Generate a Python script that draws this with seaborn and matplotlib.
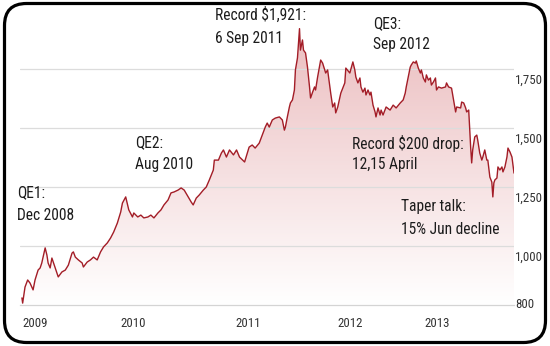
import numpy as np
import pandas as pd
import matplotlib
matplotlib.use("Agg")
import matplotlib.pyplot as plt
import seaborn as sns
from matplotlib.colors import LinearSegmentedColormap
from matplotlib.patches import FancyBboxPatch
from matplotlib.transforms import ScaledTranslation
from matplotlib import font_manager

# Gold price, US$ per ounce (decimal year, price)
years = [2008.911, 2008.918, 2008.941, 2008.967, 2008.990, 2009.007, 2009.020, 2009.039, 2009.069, 2009.089,
         2009.105, 2009.138, 2009.155, 2009.167, 2009.187, 2009.204, 2009.217, 2009.253, 2009.266, 2009.302,
         2009.335, 2009.365, 2009.401, 2009.414, 2009.433, 2009.463, 2009.500, 2009.512, 2009.549, 2009.581,
         2009.611, 2009.647, 2009.680, 2009.709, 2009.746, 2009.778, 2009.808, 2009.844, 2009.877, 2009.894,
         2009.926, 2009.956, 2009.992, 2010.005, 2010.044, 2010.074, 2010.103, 2010.143, 2010.172, 2010.202,
         2010.241, 2010.271, 2010.300, 2010.340, 2010.369, 2010.399, 2010.438, 2010.468, 2010.498, 2010.537,
         2010.567, 2010.586, 2010.616, 2010.645, 2010.685, 2010.714, 2010.744, 2010.783, 2010.793, 2010.833,
         2010.862, 2010.882, 2010.911, 2010.941, 2010.980, 2011.010, 2011.039, 2011.089, 2011.133, 2011.163,
         2011.192, 2011.232, 2011.261, 2011.291, 2011.310, 2011.330, 2011.360, 2011.389, 2011.429, 2011.458,
         2011.478, 2011.488, 2011.507, 2011.527, 2011.537, 2011.557, 2011.576, 2011.586, 2011.606, 2011.626,
         2011.635, 2011.655, 2011.665, 2011.685, 2011.704, 2011.724, 2011.734, 2011.754, 2011.773, 2011.783,
         2011.803, 2011.833, 2011.852, 2011.882, 2011.901, 2011.931, 2011.951, 2011.970, 2011.980, 2012.000,
         2012.030, 2012.069, 2012.079, 2012.118, 2012.148, 2012.167, 2012.177, 2012.197, 2012.217, 2012.227,
         2012.246, 2012.266, 2012.276, 2012.296, 2012.315, 2012.325, 2012.345, 2012.365, 2012.374, 2012.394,
         2012.414, 2012.424, 2012.443, 2012.473, 2012.512, 2012.542, 2012.571, 2012.611, 2012.640, 2012.660,
         2012.670, 2012.690, 2012.709, 2012.719, 2012.739, 2012.759, 2012.768, 2012.788, 2012.808, 2012.818,
         2012.837, 2012.857, 2012.867, 2012.887, 2012.906, 2012.916, 2012.936, 2012.956, 2012.966, 2012.985,
         2013.015, 2013.054, 2013.064, 2013.084, 2013.113, 2013.133, 2013.153, 2013.163, 2013.202, 2013.212,
         2013.232, 2013.251, 2013.261, 2013.281, 2013.300, 2013.310, 2013.320, 2013.340, 2013.360, 2013.369,
         2013.389, 2013.409, 2013.419, 2013.438, 2013.458, 2013.468, 2013.488, 2013.507, 2013.517, 2013.527,
         2013.537, 2013.557, 2013.567, 2013.586, 2013.606, 2013.616, 2013.635, 2013.655, 2013.665, 2013.685,
         2013.704, 2013.714, 2013.724]
prices = [780, 758, 826, 856, 843, 826, 814, 856, 898, 907,
          928, 992, 962, 928, 907, 949, 932, 886, 869, 890,
          898, 919, 970, 975, 953, 941, 928, 911, 932, 941,
          953, 941, 975, 996, 1013, 1034, 1059, 1097, 1144, 1182,
          1208, 1153, 1123, 1140, 1123, 1131, 1119, 1123, 1131, 1119,
          1140, 1153, 1174, 1195, 1225, 1229, 1237, 1246, 1237, 1208,
          1186, 1174, 1203, 1216, 1237, 1250, 1280, 1322, 1364, 1364,
          1394, 1407, 1377, 1407, 1386, 1407, 1377, 1356, 1419, 1428,
          1415, 1436, 1470, 1504, 1521, 1504, 1534, 1542, 1547, 1534,
          1491, 1504, 1547, 1589, 1606, 1619, 1661, 1746, 1797, 1921,
          1830, 1873, 1830, 1818, 1758, 1674, 1627, 1652, 1674, 1661,
          1716, 1788, 1775, 1733, 1746, 1648, 1589, 1606, 1564, 1589,
          1648, 1691, 1754, 1733, 1780, 1746, 1716, 1691, 1712, 1674,
          1652, 1669, 1640, 1661, 1640, 1652, 1597, 1568, 1547, 1585,
          1555, 1576, 1555, 1589, 1576, 1597, 1585, 1606, 1619, 1648,
          1674, 1716, 1758, 1767, 1780, 1775, 1784, 1754, 1733, 1746,
          1712, 1695, 1725, 1703, 1712, 1682, 1695, 1712, 1661, 1674,
          1669, 1674, 1691, 1674, 1669, 1619, 1568, 1589, 1585, 1610,
          1606, 1585, 1568, 1576, 1419, 1352, 1407, 1462, 1470, 1449,
          1394, 1364, 1377, 1407, 1364, 1364, 1292, 1271, 1208, 1267,
          1280, 1288, 1335, 1322, 1335, 1314, 1335, 1377, 1415, 1398,
          1377, 1343, 1309]

year_labels = ["2009", "2010", "2011", "2012", "2013"]
price_ticks = [800, 1000, 1250, 1500, 1750]
price_labels = ["800", "1,000", "1,250", "1,500", "1,750"]
grid_levels = [1000, 1250, 1500, 1750]

note_lines = [
    ("Record $1,921:", "6 Sep 2011"),
    ("QE3:", "Sep 2012"),
    ("QE2:", "Aug 2010"),
    ("QE1:", "Dec 2008"),
    ("Record $200 drop:", "12,15 April"),
    ("Taper talk:", "15% Jun decline"),
]

sns.set_theme(style="white")

# prefer a condensed face if one is installed
installed = {f.name for f in font_manager.fontManager.ttflist}
condensed = [n for n in ("Liberation Sans Narrow", "Roboto Condensed", "DejaVu Sans Condensed")
             if n in installed]
if condensed:
    base_family = condensed[0]
    note_size, tick_size = 11.2, 9.3
else:
    base_family = "Liberation Sans"
    note_size, tick_size = 9.6, 8.0
plt.rcParams["font.family"] = [base_family, "DejaVu Sans"]

df = pd.DataFrame({"year": years, "price": prices})

W, H, DPI = 550, 346, 100
fig = plt.figure(figsize=(W / DPI, H / DPI), dpi=DPI)
fig.patch.set_facecolor("white")
ax = fig.add_axes([20 / W, 1 - 305 / H, 494 / W, 295 / H])
ax.set_facecolor("white")

x0, x1 = 2008.892, 2013.724
y0, y1 = 750, 2000

# shaded area under the price line, fading from rose to white
area = ax.fill_between(df["year"], df["price"], y0, facecolor="none", edgecolor="none")
rose = LinearSegmentedColormap.from_list("rose", ["#ffffff", "#ebbcbe"])
ramp = np.linspace(0, 1, 256).reshape(-1, 1)
img = ax.imshow(ramp, cmap=rose, extent=[x0, x1, y0, 1950], origin="lower",
                aspect="auto", zorder=1, interpolation="bilinear")
img.set_clip_path(area.get_paths()[0], transform=ax.transData)

for g in grid_levels:
    ax.axhline(g, color="#dcdcdc", lw=0.9, zorder=2)

sns.lineplot(data=df, x="year", y="price", ax=ax, color="#a31d27", linewidth=1.0, zorder=3)

ax.set_xlim(x0, x1)
ax.set_ylim(y0, y1)
ax.set_xlabel("")
ax.set_ylabel("")

for side in ("top", "left", "right"):
    ax.spines[side].set_visible(False)
ax.spines["bottom"].set_color("#d4d4d4")
ax.spines["bottom"].set_linewidth(0.9)

ax.set_xticks([2009.04, 2010.0, 2011.12, 2012.12, 2012.97], year_labels)
ax.yaxis.tick_right()
ax.set_yticks(price_ticks, price_labels)
ax.tick_params(axis="both", length=0, labelsize=tick_size, colors="#333333")
ax.tick_params(axis="x", pad=8.5)
ax.tick_params(axis="y", pad=1)
shift = ScaledTranslation(0, -0.10, fig.dpi_scale_trans)
for lab in ax.get_yticklabels():
    lab.set_transform(lab.get_transform() + shift)

# event notes, positioned in figure pixels (left edge, first-line y, second-line y)
note_pos = [(215, 15, 39), (373, 24, 45), (135, 143, 164), (17, 193, 215),
            (352, 143, 165), (401, 206, 230)]
for (l1, l2), (px, py1, py2) in zip(note_lines, note_pos):
    for txt, py in ((l1, py1), (l2, py2)):
        fig.text(px / W, 1 - py / H, txt, ha="left", va="center",
                 fontsize=note_size, color="#1c1c1c")

# rounded outer frame
frame = FancyBboxPatch((4.5, 3.5), 541, 339, boxstyle="round,pad=0,rounding_size=22",
                       transform=None, facecolor="none", edgecolor="black", linewidth=2.3,
                       zorder=10)
fig.add_artist(frame)

fig.savefig("out.png", dpi=DPI, facecolor="white")
